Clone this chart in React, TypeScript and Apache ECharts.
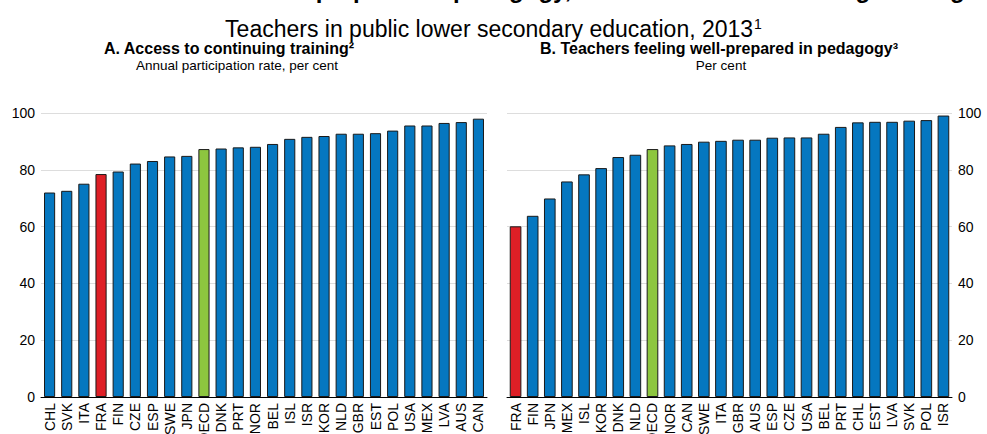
import React, { useEffect, useRef } from "react";
import * as echarts from "echarts";

const mainTitle = "French teachers feel less prepared in pedagogy, less access to continuing training";
const subTitle = "Teachers in public lower secondary education, 2013";
const panelATitle = "A. Access to continuing training²";
const panelASub = "Annual participation rate, per cent";
const panelBTitle = "B. Teachers feeling well-prepared in pedagogy³";
const panelBSub = "Per cent";

const catsA = ["CHL","SVK","ITA","FRA","FIN","CZE","ESP","SWE","JPN","OECD","DNK","PRT","NOR","BEL","ISL","ISR","KOR","NLD","GBR","EST","POL","USA","MEX","LVA","AUS","CAN"];
const valsA = [72.0,72.6,75.1,78.5,79.4,82.2,83.1,84.7,84.9,87.3,87.5,87.9,88.1,89.1,90.9,91.6,91.9,92.7,92.7,92.9,93.8,95.6,95.6,96.5,96.8,98.0];

const catsB = ["FRA","FIN","JPN","MEX","ISL","KOR","DNK","NLD","OECD","NOR","CAN","SWE","ITA","GBR","AUS","ESP","CZE","USA","BEL","PRT","CHL","EST","LVA","SVK","POL","ISR"];
const valsB = [60.1,63.8,69.9,75.9,78.4,80.6,84.5,85.3,87.3,88.6,89.1,89.9,90.2,90.6,90.6,91.3,91.4,91.4,92.7,95.1,96.7,96.9,96.9,97.3,97.5,99.1];

const BLUE = "#0577C0";
const RED = "#DE1F26";
const GREEN = "#8DC63F";
const FONT = "Liberation Sans, Arial, sans-serif";

function colorFor(c: string) {
  if (c === "FRA") return RED;
  if (c === "OECD") return GREEN;
  return BLUE;
}

export default function App() {
  const ref = useRef<HTMLDivElement>(null);
  useEffect(() => {
    document.body.style.margin = "0";
    const chart = echarts.init(ref.current!, null, { renderer: "svg" });
    const mkX = (cats: string[], gi: number) => ({
      type: "category",
      gridIndex: gi,
      data: cats,
      axisTick: { show: false },
      axisLine: { show: true, lineStyle: { color: "#000", width: 1 } },
      axisLabel: { rotate: 90, interval: 0, fontSize: 14, color: "#000", fontFamily: FONT, margin: 6 },
    });
    const mkY = (gi: number, pos: "left" | "right") => ({
      type: "value",
      gridIndex: gi,
      position: pos,
      min: 0,
      max: 100,
      interval: 20,
      axisLine: { show: false },
      axisTick: { show: false },
      axisLabel: { fontSize: 14, color: "#000", fontFamily: FONT, margin: 6 },
      splitLine: { lineStyle: { color: "#DDDDDD", width: 1 } },
    });
    const mkData = (cats: string[], vals: number[]) =>
      vals.map((v, i) => ({ value: v, itemStyle: { color: colorFor(cats[i]) } }));
    chart.setOption({
      animation: false,
      backgroundColor: "#fff",
      textStyle: { fontFamily: FONT },
      title: [
        { text: mainTitle, left: "center", top: -23, padding: 0, textStyle: { fontSize: 24, lineHeight: 24, fontWeight: "bold", color: "#000", fontFamily: FONT } },
        {
          text: subTitle + "{sup|1}",
          left: "center",
          top: 17,
          padding: 0,
          textStyle: {
            fontSize: 23, lineHeight: 23, fontWeight: "normal", color: "#000", fontFamily: FONT,
            rich: { sup: { fontSize: 14, lineHeight: 14, verticalAlign: "top", padding: [0, 0, 10, 1], color: "#000", fontFamily: FONT } },
          },
        },
        { text: panelATitle, left: 229, textAlign: "center", top: 40, padding: 0, textStyle: { fontSize: 16, lineHeight: 16, fontWeight: "bold", color: "#000", fontFamily: FONT } },
        { text: panelASub, left: 237, textAlign: "center", top: 59, padding: 0, textStyle: { fontSize: 13.5, lineHeight: 13.5, fontWeight: "normal", color: "#000", fontFamily: FONT } },
        { text: panelBTitle, left: 719, textAlign: "center", top: 40, padding: 0, textStyle: { fontSize: 16, lineHeight: 16, fontWeight: "bold", color: "#000", fontFamily: FONT } },
        { text: panelBSub, left: 721, textAlign: "center", top: 59, padding: 0, textStyle: { fontSize: 13.5, lineHeight: 13.5, fontWeight: "normal", color: "#000", fontFamily: FONT } },
      ],
      grid: [
        { left: 41, top: 113, width: 446, height: 284, outerBoundsMode: "none", containLabel: false },
        { left: 507, top: 113, width: 445, height: 284, outerBoundsMode: "none", containLabel: false },
      ],
      xAxis: [mkX(catsA, 0), mkX(catsB, 1)],
      yAxis: [mkY(0, "left"), mkY(1, "right")],
      series: [
        {
          type: "bar", xAxisIndex: 0, yAxisIndex: 0, barWidth: "65%",
          data: mkData(catsA, valsA),
          itemStyle: { borderColor: "#1a1a1a", borderWidth: 1 },
        },
        {
          type: "bar", xAxisIndex: 1, yAxisIndex: 1, barWidth: "68%",
          data: mkData(catsB, valsB),
          itemStyle: { borderColor: "#1a1a1a", borderWidth: 1 },
        },
      ],
    });
    return () => chart.dispose();
  }, []);
  return <div ref={ref} style={{ width: 987, height: 434 }} />;
}
